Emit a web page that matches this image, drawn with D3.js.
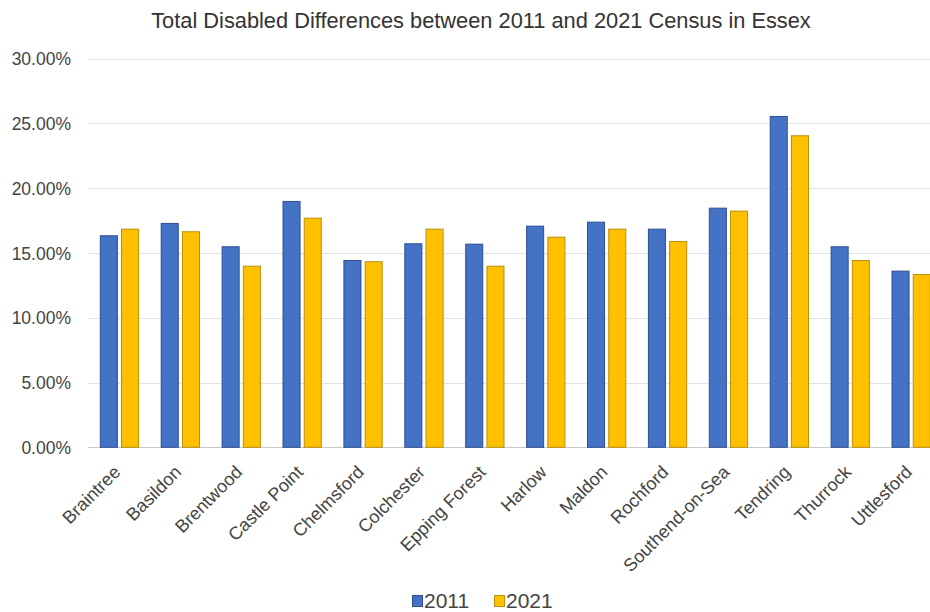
<!DOCTYPE html>
<html>
<head>
<meta charset="utf-8">
<script src="https://cdn.jsdelivr.net/npm/d3@7"></script>
<style>
  html, body { margin: 0; padding: 0; background: #fff; }
  svg { display: block; font-family: "Liberation Sans", Arial, sans-serif; }
</style>
</head>
<body>
<svg id="chart" width="930" height="612"></svg>
<script>
const categories = ["Braintree","Basildon","Brentwood","Castle Point","Chelmsford","Colchester","Epping Forest","Harlow","Maldon","Rochford","Southend-on-Sea","Tendring","Thurrock","Uttlesford"];
const seriesNames = ["2011","2021"];
const values2011 = [0.1637,0.1732,0.1552,0.1902,0.1446,0.1575,0.1572,0.1711,0.1742,0.1688,0.1850,0.2558,0.1552,0.1364];
const values2021 = [0.1688,0.1668,0.1402,0.1773,0.1436,0.1688,0.1402,0.1626,0.1688,0.1593,0.1827,0.2409,0.1446,0.1338];
const yTicks = [0,0.05,0.10,0.15,0.20,0.25,0.30];
const chartTitle = "Total Disabled Differences between 2011 and 2021 Census in Essex";
const fills = {"2011":"#4472C4","2021":"#FFC000"};
const strokes = {"2011":"#2F4F8F","2021":"#B8900A"};

(function () {
const svg = d3.select("#chart");
const pLeft = 89, pRight = 941.6, pTop = 58.7, pBottom = 447.3;

const x0 = d3.scaleBand().domain(categories).range([pLeft, pRight]).paddingInner(0.355).paddingOuter(0.1775);
const x1 = d3.scaleBand().domain(seriesNames).range([0, x0.bandwidth()]).paddingInner(0.15);
const y = d3.scaleLinear().domain([0, 0.30]).range([pBottom, pTop]);

// gridlines
const grid = svg.append("g");
grid.selectAll("line").data(yTicks).join("line")
  .attr("x1", pLeft - 1).attr("x2", 930)
  .attr("y1", d => Math.round(y(d)) + 0.5).attr("y2", d => Math.round(y(d)) + 0.5)
  .attr("stroke", d => d === 0 ? "#c8c8c8" : "#e2e2e2").attr("stroke-width", 1);

// y axis labels
const yAxis = d3.axisLeft(y).tickValues(yTicks).tickFormat(d3.format(".2%")).tickSize(0).tickPadding(0);
const ya = svg.append("g").attr("transform", "translate(71,0)").call(yAxis);
ya.select(".domain").remove();
ya.selectAll("text").attr("font-size", 17.5).attr("fill", "#444").attr("font-family", "Liberation Sans, Arial, sans-serif").attr("dy", "0.35em");

// bars
const data = categories.map((c, i) => ({cat: c, vals: [{s: "2011", v: values2011[i]}, {s: "2021", v: values2021[i]}]}));
const groups = svg.append("g").selectAll("g").data(data).join("g")
  .attr("transform", d => `translate(${x0(d.cat)},0)`);
groups.selectAll("rect").data(d => d.vals).join("rect")
  .attr("x", d => x1(d.s) + 0.5)
  .attr("y", d => y(d.v) + 0.5)
  .attr("width", x1.bandwidth() - 1)
  .attr("height", d => pBottom - y(d.v) - 0.5)
  .attr("fill", d => fills[d.s])
  .attr("stroke", d => strokes[d.s])
  .attr("stroke-width", 1);

// x axis labels
const xAxis = d3.axisBottom(x0).tickSize(0).tickPadding(0);
const xa = svg.append("g").attr("transform", `translate(0,${pBottom + 14})`).call(xAxis);
xa.select(".domain").remove();
xa.selectAll("text")
  .attr("font-size", 18).attr("fill", "#444").attr("font-family", "Liberation Sans, Arial, sans-serif")
  .attr("text-anchor", "end")
  .attr("transform", "rotate(-45)")
  .attr("x", -7).attr("y", 0).attr("dy", "0.55em");

// title
svg.append("text").attr("x", 481).attr("y", 28).attr("text-anchor", "middle")
  .attr("font-size", 21.8).attr("fill", "#333").text(chartTitle);

// legend
const legend = svg.append("g");
const legItems = [{s: "2011", x: 412}, {s: "2021", x: 494}];
legend.selectAll("rect").data(legItems).join("rect")
  .attr("x", d => d.x + 0.5).attr("y", 595.5).attr("width", 10).attr("height", 11)
  .attr("fill", d => fills[d.s]).attr("stroke", d => strokes[d.s]).attr("stroke-width", 1);
legend.selectAll("text").data(legItems).join("text")
  .attr("x", d => d.x + 12).attr("y", 607.5)
  .attr("font-size", 21).attr("fill", "#444").text(d => d.s);
})();
</script>
</body>
</html>
